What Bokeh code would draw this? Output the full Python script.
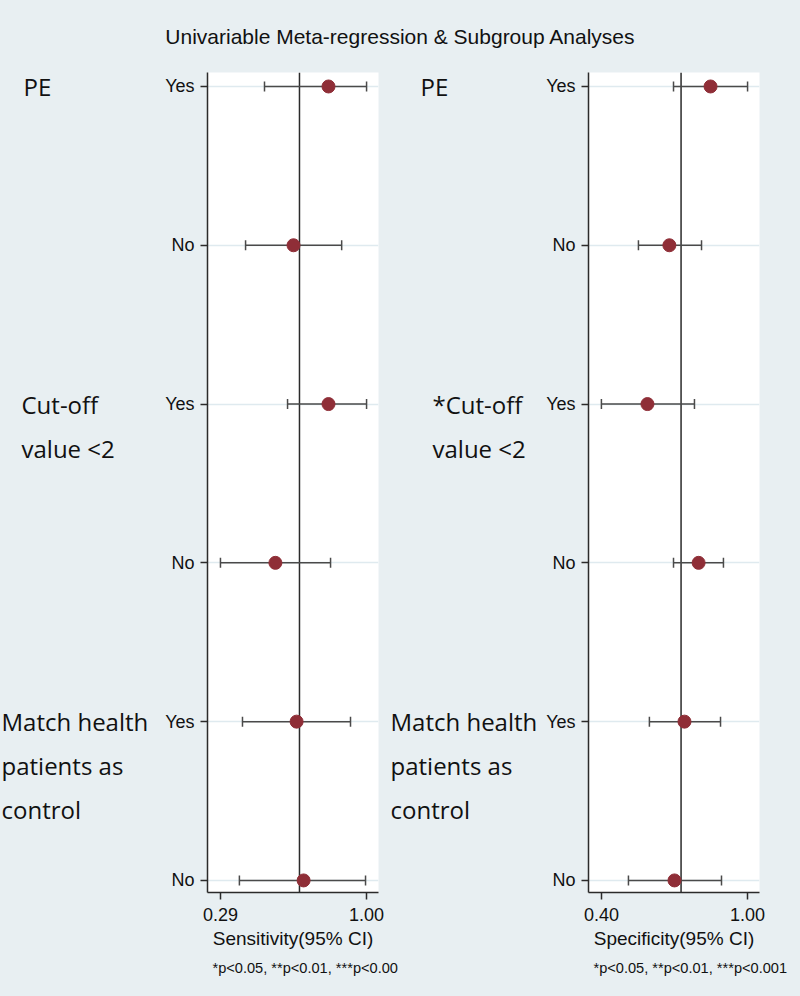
from bokeh.plotting import figure
from bokeh.models import (Range1d, FixedTicker, Whisker, TeeHead, Span, Label,
                          ColumnDataSource, NumeralTickFormatter)
from bokeh.core.properties import value
from bokeh.layouts import column, row
from bokeh.embed import file_html
from bokeh.resources import INLINE

# ---------------- data ----------------
title_text = "Univariable Meta-regression & Subgroup Analyses"
row_pos = [6, 5, 4, 3, 2, 1]
row_labels = ["Yes", "No", "Yes", "No", "Yes", "No"]
group_rows = [6, 4, 2]
sens_groups = [["PE"], ["Cut-off", "value <2"], ["Match health", "patients as", "control"]]
spec_groups = [["PE"], ["*Cut-off", "value <2"], ["Match health", "patients as", "control"]]

sens_est = [0.815, 0.645, 0.815, 0.557, 0.660, 0.694]
sens_lo = [0.504, 0.412, 0.616, 0.290, 0.397, 0.382]
sens_hi = [1.000, 0.879, 1.000, 0.825, 0.922, 0.995]
sens_ref = 0.674
sens_ticks = [0.29, 1.00]

spec_est = [0.848, 0.679, 0.589, 0.799, 0.741, 0.700]
spec_lo = [0.696, 0.552, 0.400, 0.696, 0.597, 0.511]
spec_hi = [1.000, 0.811, 0.782, 0.901, 0.889, 0.893]
spec_ref = 0.727
spec_ticks = [0.40, 1.00]

sens_xlabel = "Sensitivity(95% CI)"
spec_xlabel = "Specificity(95% CI)"
sens_foot = "*p<0.05, **p<0.01, ***p<0.00"
spec_foot = "*p<0.05, **p<0.01, ***p<0.001"

# ---------------- style / layout ----------------
BG = "#e8eff2"
AX = "#2b2b2b"
DOT = "#8f2e37"
CI = "#4a4a4a"
GRID = "#dfeaef"
FONT = "Liberation Sans"
GFONT = "Open Sans"

W = 800
TOP_H = 58
PANEL_H = 900
FOOT_H = 996 - TOP_H - PANEL_H
B_TOP = 14
B_BOT = 66
FRAME_H = PANEL_H - B_TOP - B_BOT
Y0, Y1 = 0.924, 6.088
LINE_PX = 44
yrange = Range1d(Y0, Y1)


def blank(width, height):
    return figure(width=width, height=height, x_range=Range1d(0, width), y_range=Range1d(0, height),
                  output_backend="svg", toolbar_location=None, x_axis_type=None, y_axis_type=None,
                  min_border=0, background_fill_color=BG, border_fill_color=BG,
                  outline_line_color=None)


def label_fig(width, groups, gx):
    f = figure(width=width, height=PANEL_H, x_range=Range1d(0, width), y_range=yrange,
               output_backend="svg", toolbar_location=None, x_axis_type=None, y_axis_type=None,
               min_border_left=0, min_border_right=0, min_border_top=B_TOP, min_border_bottom=B_BOT,
               background_fill_color=BG, border_fill_color=BG, outline_line_color=None)
    step = LINE_PX * (Y1 - Y0) / FRAME_H
    xs, ys, ts = [], [], []
    for g, yr, xo in zip(groups, group_rows, gx):
        for j, t in enumerate(g):
            xs.append(xo)
            ys.append(yr - j * step)
            ts.append(t)
    f.text(x=xs, y=ys, text=ts, text_font=value(GFONT), text_font_size=value("24px"),
           text_baseline="middle", text_align="left", text_color="#111111")
    return f


def panel(width, bl, br, xr, ticks, est, lo, hi, ref, xlabel):
    p = figure(width=width, height=PANEL_H, x_range=Range1d(*xr), y_range=yrange,
               output_backend="svg", toolbar_location=None,
               min_border_left=bl, min_border_right=br, min_border_top=B_TOP, min_border_bottom=B_BOT,
               background_fill_color="white", border_fill_color=BG, outline_line_color=None)
    src = ColumnDataSource(dict(y=row_pos, est=est, lo=lo, hi=hi))

    p.xaxis.ticker = FixedTicker(ticks=ticks)
    p.xaxis.formatter = NumeralTickFormatter(format="0.00")
    p.xaxis.axis_label = xlabel
    p.yaxis.ticker = FixedTicker(ticks=row_pos)
    p.yaxis.major_label_overrides = {k: v for k, v in zip(row_pos, row_labels)}
    for ax in (p.xaxis[0], p.yaxis[0]):
        ax.axis_line_color = AX
        ax.axis_line_width = 1.5
        ax.major_tick_line_color = AX
        ax.major_tick_line_width = 1.5
        ax.major_tick_out = 7
        ax.major_tick_in = 0
        ax.minor_tick_line_color = None
        ax.major_label_text_font = FONT
        ax.major_label_text_color = "#111111"
    p.yaxis.major_label_text_font_size = "18px"
    p.yaxis.major_label_standoff = 6
    p.xaxis.major_label_text_font_size = "18px"
    p.xaxis.major_label_standoff = 8
    p.xaxis.axis_label_text_font = FONT
    p.xaxis.axis_label_text_font_size = "19px"
    p.xaxis.axis_label_text_font_style = "normal"
    p.xaxis.axis_label_text_color = "#111111"
    p.xaxis.axis_label_standoff = 4

    p.xgrid.grid_line_color = None
    p.ygrid.ticker = FixedTicker(ticks=row_pos)
    p.ygrid.grid_line_color = GRID
    p.ygrid.grid_line_width = 1.5

    p.add_layout(Span(location=ref, dimension="height", line_color=AX, line_width=1.5,
                      level="underlay"))
    w = Whisker(source=src, base="y", lower="lo", upper="hi", dimension="width",
                line_color=CI, line_width=1.5, level="underlay",
                lower_head=TeeHead(size=10, line_color=CI, line_width=1.5),
                upper_head=TeeHead(size=10, line_color=CI, line_width=1.5))
    p.add_layout(w)
    p.scatter("est", "y", source=src, size=13, fill_color=DOT, line_color=DOT)
    return p


lab_left = label_fig(160, sens_groups, [23, 21, 1])
left = panel(225, 47, 7, (0.227, 1.058), sens_ticks, sens_est, sens_lo, sens_hi, sens_ref,
             sens_xlabel)
lab_right = label_fig(157, spec_groups, [35, 47, 5])
right = panel(258, 46, 41, (0.347, 1.049), spec_ticks, spec_est, spec_lo, spec_hi, spec_ref,
              spec_xlabel)

top = blank(W, TOP_H)
top.add_layout(Label(x=W / 2, y=TOP_H - 36, text=title_text,
                     text_font=FONT, text_font_size="21px", text_align="center",
                     text_baseline="middle", text_color="#111111"))

foot = blank(W, FOOT_H)
for fx, ft in zip([212, 593], [sens_foot, spec_foot]):
    foot.add_layout(Label(x=fx, y=FOOT_H - 9, text=ft, text_font=FONT,
                          text_font_size="14.6px", text_align="left",
                          text_baseline="middle", text_color="#111111"))

layout = column(top, row(lab_left, left, lab_right, right, spacing=0), foot, spacing=0)

html = file_html(layout, INLINE)
html = html.replace("</head>", "<style>html, body { background-color: %s; }</style></head>" % BG, 1)
open("out.html", "w").write(html)
